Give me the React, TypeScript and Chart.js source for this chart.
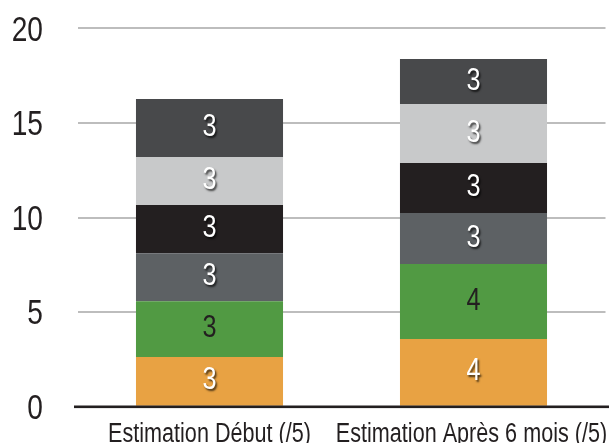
import React, { useEffect, useRef } from "react";
import { Chart, registerables } from "chart.js";

Chart.register(...registerables);

const categories = ["Estimation Début (/5)", "Estimation Après 6 mois (/5)"];

const seriesOrange = [2.63, 3.58];
const seriesGreen = [2.94, 3.96];
const seriesGray = [2.54, 2.7];
const seriesBlack = [2.55, 2.64];
const seriesLightGray = [2.54, 3.12];
const seriesDarkGray = [3.06, 2.38];

const labelsOrange = ["3", "4"];
const labelsGreen = ["3", "4"];
const labelsGray = ["3", "3"];
const labelsBlack = ["3", "3"];
const labelsLightGray = ["3", "3"];
const labelsDarkGray = ["3", "3"];

const yTicks = [0, 5, 10, 15, 20];

const FONT = "'Liberation Sans', Arial, Helvetica, sans-serif";
const TEXT = "#231F20";

const datasetsDef = [
  { label: "Série 1", data: seriesOrange, color: "#E8A243", labels: labelsOrange, text: "#ffffff", shadow: true },
  { label: "Série 2", data: seriesGreen, color: "#519A43", labels: labelsGreen, text: TEXT, shadow: false },
  { label: "Série 3", data: seriesGray, color: "#5D6164", labels: labelsGray, text: "#ffffff", shadow: true },
  { label: "Série 4", data: seriesBlack, color: "#231F20", labels: labelsBlack, text: "#ffffff", shadow: true },
  { label: "Série 5", data: seriesLightGray, color: "#C8C9CA", labels: labelsLightGray, text: "#ffffff", shadow: true },
  { label: "Série 6", data: seriesDarkGray, color: "#48494B", labels: labelsDarkGray, text: "#ffffff", shadow: true },
];

function drawNarrow(
  ctx: CanvasRenderingContext2D,
  text: string,
  x: number,
  y: number,
  size: number,
  align: CanvasTextAlign,
  color: string,
  sx: number,
  shadow = false
) {
  ctx.save();
  ctx.font = `${size}px ${FONT}`;
  ctx.textAlign = align;
  ctx.textBaseline = "alphabetic";
  ctx.fillStyle = color;
  if (shadow) {
    ctx.shadowColor = "rgba(0,0,0,0.7)";
    ctx.shadowOffsetX = 1.5;
    ctx.shadowOffsetY = 2;
    ctx.shadowBlur = 2;
  }
  ctx.translate(x, y);
  ctx.scale(sx, 1);
  ctx.fillText(text, 0, 0);
  ctx.restore();
}

const textPlugin = {
  id: "narrowText",
  afterDatasetsDraw(chart: any) {
    const ctx = chart.ctx as CanvasRenderingContext2D;
    const area = chart.chartArea;
    const ys = chart.scales.y;
    const xs = chart.scales.x;

    // baseline axis line
    const y0 = ys.getPixelForValue(0);
    ctx.save();
    ctx.fillStyle = TEXT;
    ctx.fillRect(area.left - 3.5, y0 - 1.2, chart.width - area.left + 3.5, 2.6);
    ctx.restore();

    // y tick labels
    const ySize = 34.5;
    ys.ticks.forEach((t: any) => {
      const py = ys.getPixelForValue(t.value);
      drawNarrow(ctx, String(t.value), 43, py + (0.716 * ySize) / 2, ySize, "right", TEXT, 0.815);
    });

    // x category labels
    const xSize = 27;
    categories.forEach((c, i) => {
      const px = xs.getPixelForTick(i);
      drawNarrow(ctx, c, px - i * 2, area.bottom + 35.3, xSize, "center", TEXT, 0.8);
    });

    // segment labels
    const dSize = 31;
    chart.data.datasets.forEach((ds: any, i: number) => {
      const def = datasetsDef[i];
      const meta = chart.getDatasetMeta(i);
      meta.data.forEach((bar: any, j: number) => {
        const p = bar.getProps(["x", "y", "base"], true);
        const cy = (p.y + p.base) / 2 - 3;
        drawNarrow(ctx, def.labels[j], p.x, cy + (0.716 * dSize) / 2, dSize, "center", def.text, 0.815, def.shadow);
      });
    });
  },
};

export default function App() {
  const ref = useRef<HTMLCanvasElement>(null);
  useEffect(() => {
    if (!ref.current) return;
    const chart = new Chart(ref.current, {
      type: "bar",
      data: {
        labels: categories,
        datasets: datasetsDef.map((d) => ({
          label: d.label,
          data: d.data,
          backgroundColor: d.color,
          borderWidth: 0,
          barPercentage: 0.557,
          categoryPercentage: 1,
        })),
      },
      options: {
        responsive: false,
        animation: false,
        layout: { padding: { top: 28.3, right: 3.5, left: 0, bottom: 0 } },
        plugins: { legend: { display: false }, tooltip: { enabled: false } },
        scales: {
          x: {
            stacked: true,
            grid: { display: false, drawTicks: false },
            border: { display: false },
            ticks: { display: false },
            afterFit: (s: any) => {
              s.height = 36.3;
              s.paddingLeft = 0;
              s.paddingRight = 0;
            },
          },
          y: {
            stacked: true,
            min: 0,
            max: 20,
            afterBuildTicks: (s: any) => {
              s.ticks = yTicks.map((v) => ({ value: v }));
            },
            grid: { color: "#BDBDBD", lineWidth: 2, drawTicks: false },
            border: { display: false },
            ticks: { display: false },
            afterFit: (s: any) => {
              s.width = 77.5;
              s.paddingTop = 0;
              s.paddingBottom = 0;
            },
          },
        },
      },
      plugins: [textPlugin],
    });
    return () => chart.destroy();
  }, []);
  return (
    <div style={{ position: "fixed", left: 0, top: 0, width: 609, height: 443, background: "#fff" }}>
      <canvas ref={ref} width={609} height={443} style={{ width: 609, height: 443, display: "block" }} />
    </div>
  );
}
